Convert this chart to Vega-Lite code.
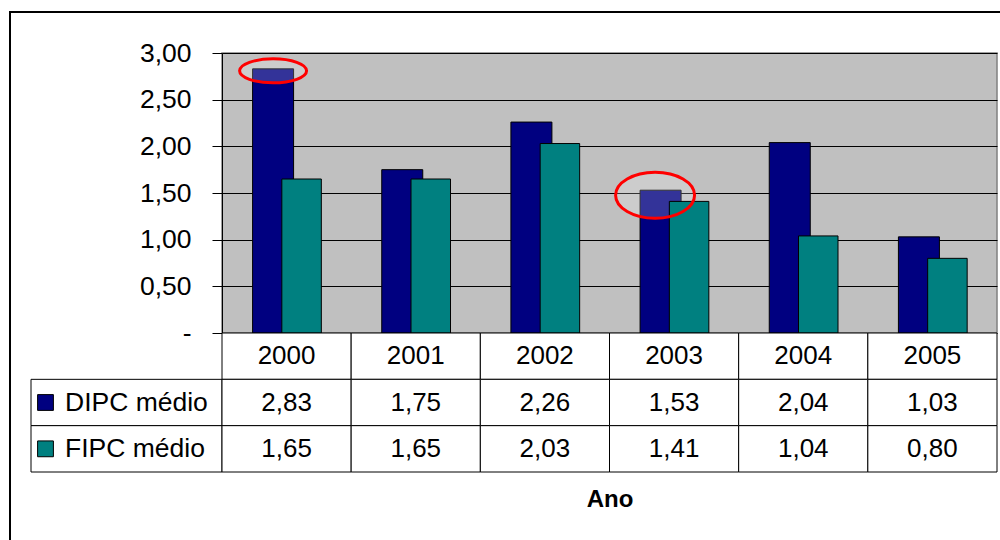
{
  "$schema": "https://vega.github.io/schema/vega-lite/v6.json",
  "autosize": {"type": "none"},
  "padding": {"left": 9, "top": 11, "right": 991, "bottom": 529},
  "background": "white",
  "config": {
    "font": "Liberation Sans",
    "view": {"stroke": null},
    "locale": {"number": {"decimal": ",", "thousands": ".", "grouping": [3], "currency": ["", " €"]}}
  },
  "datasets": {
    "ipc": [
      {"year": "2000", "series": "DIPC médio", "value": 2.83},
      {"year": "2000", "series": "FIPC médio", "value": 1.65},
      {"year": "2001", "series": "DIPC médio", "value": 1.75},
      {"year": "2001", "series": "FIPC médio", "value": 1.65},
      {"year": "2002", "series": "DIPC médio", "value": 2.26},
      {"year": "2002", "series": "FIPC médio", "value": 2.03},
      {"year": "2003", "series": "DIPC médio", "value": 1.53},
      {"year": "2003", "series": "FIPC médio", "value": 1.41},
      {"year": "2004", "series": "DIPC médio", "value": 2.04},
      {"year": "2004", "series": "FIPC médio", "value": 1.04},
      {"year": "2005", "series": "DIPC médio", "value": 1.03},
      {"year": "2005", "series": "FIPC médio", "value": 0.80}
    ],
    "one": [{"k": 1}]
  },
  "bounds": "flush",
  "spacing": 0,
  "hconcat": [
    {"width": 2, "height": 529, "data": {"name": "one"}, "mark": {"type": "rect", "fill": "black", "strokeWidth": 0}, "encoding": {}},
    {
      "bounds": "flush",
      "spacing": 40,
      "vconcat": [
        {"width": 989, "height": 2, "data": {"name": "one"}, "mark": {"type": "rect", "fill": "black", "strokeWidth": 0}, "encoding": {}},
        {
          "columns": 3,
          "spacing": 0,
          "bounds": "flush",
          "concat": [
            {"width": 20, "height": 280, "data": {"name": "one"}, "mark": {"type": "rect", "opacity": 0}, "encoding": {}},
            {"width": 191, "height": 280, "data": {"name": "one"}, "mark": {"type": "rect", "opacity": 0}, "encoding": {}},
            {
              "width": 775,
              "height": 280,
              "view": {"fill": "#C0C0C0", "stroke": "#808080", "strokeWidth": 1.5},
              "data": {"name": "ipc"},
              "encoding": {
                "x": {"field": "year", "type": "nominal", "scale": {"paddingInner": 0, "paddingOuter": 0}, "axis": null},
                "y": {
                  "field": "value", "type": "quantitative",
                  "scale": {"domain": [0, 3], "nice": false},
                  "axis": {
                    "values": [0, 0.5, 1, 1.5, 2, 2.5, 3],
                    "format": ".2f",
                    "labelExpr": "datum.value == 0 ? '-\u2007\u2007' : datum.label",
                    "title": null,
                    "grid": true, "gridColor": "black", "gridWidth": 1, "gridOpacity": 1,
                    "domainColor": "black", "domainWidth": 1,
                    "tickColor": "black", "tickSize": 10, "tickWidth": 1,
                    "labelFontSize": 26.5, "labelColor": "black", "labelPadding": 21, "labelFont": "Liberation Sans"
                  }
                }
              },
              "layer": [
                {
                  "transform": [{"filter": "datum.series == 'DIPC médio'"}],
                  "mark": {"type": "bar", "width": 41, "xOffset": -13.5, "fill": "#000080", "stroke": "black", "strokeWidth": 1}
                },
                {
                  "transform": [{"filter": "datum.series == 'DIPC médio' && (datum.year == '2000' || datum.year == '2003')"}],
                  "mark": {"type": "point", "size": 10000, "filled": true, "fill": "white", "fillOpacity": 0.2, "strokeWidth": 0, "opacity": 1, "xOffset": -13.5},
                  "encoding": {
                    "shape": {
                      "field": "year", "type": "nominal", "legend": null,
                      "scale": {"domain": ["2000", "2003"], "range": ["M -0.67 0.04 A 0.67 0.24 0 1 0 0.67 0.04 A 0.67 0.24 0 1 0 -0.67 0.04 Z", "M -0.90 0.10 A 0.79 0.46 0 1 0 0.68 0.10 A 0.79 0.46 0 1 0 -0.90 0.10 Z"]}
                    }
                  }
                },
                {
                  "transform": [{"filter": "datum.series == 'FIPC médio'"}],
                  "mark": {"type": "bar", "width": 39.5, "xOffset": 15, "fill": "#008080", "stroke": "black", "strokeWidth": 1}
                },
                {
                  "transform": [{"filter": "datum.series == 'DIPC médio' && (datum.year == '2000' || datum.year == '2003')"}],
                  "mark": {"type": "point", "size": 10000, "filled": false, "stroke": "#FF0000", "strokeWidth": 3, "opacity": 1, "xOffset": -13.5},
                  "encoding": {
                    "shape": {
                      "field": "year", "type": "nominal", "legend": null,
                      "scale": {"domain": ["2000", "2003"], "range": ["M -0.67 0.04 A 0.67 0.24 0 1 0 0.67 0.04 A 0.67 0.24 0 1 0 -0.67 0.04 Z", "M -0.90 0.10 A 0.79 0.46 0 1 0 0.68 0.10 A 0.79 0.46 0 1 0 -0.90 0.10 Z"]}
                    }
                  }
                }
              ]
            },
            {"width": 20, "height": 139, "data": {"name": "one"}, "mark": {"type": "rect", "opacity": 0}, "encoding": {}},
            {
              "width": 191,
              "height": 139,
              "data": {"name": "ipc"},
              "transform": [{"aggregate": [{"op": "count", "as": "n"}], "groupby": ["series"]}],
              "encoding": {
                "y": {"field": "series", "type": "nominal", "scale": {"domain": ["Ano", "DIPC médio", "FIPC médio"], "paddingInner": 0, "paddingOuter": 0}, "axis": null}
              },
              "layer": [
                {"mark": {"type": "rect", "fill": "white", "stroke": "black", "strokeWidth": 1}},
                {
                  "mark": {"type": "point", "shape": "square", "size": 250, "filled": true, "opacity": 1, "stroke": "black", "strokeWidth": 1, "xOffset": -81},
                  "encoding": {"fill": {"field": "series", "type": "nominal", "scale": {"domain": ["DIPC médio", "FIPC médio"], "range": ["#000080", "#008080"]}, "legend": null}}
                },
                {
                  "mark": {"type": "text", "align": "left", "fontSize": 26.5, "color": "black", "dx": -61.5},
                  "encoding": {"text": {"field": "series"}}
                }
              ]
            },
            {
              "width": 775,
              "height": 139,
              "data": {"name": "ipc"},
              "encoding": {
                "x": {
                  "field": "year", "type": "nominal", "scale": {"paddingInner": 0, "paddingOuter": 0},
                  "axis": {"title": "Ano", "labels": false, "ticks": false, "domain": false, "titleFontSize": 24, "titleFontWeight": "bold", "titleColor": "black", "titlePadding": 15, "titleFont": "Liberation Sans"}
                }
              },
              "layer": [
                {
                  "transform": [{"aggregate": [{"op": "count", "as": "n"}], "groupby": ["year"]}],
                  "mark": {"type": "rect", "fill": "white", "stroke": "black", "strokeWidth": 1},
                  "encoding": {"y": {"datum": "Ano", "type": "nominal", "scale": {"domain": ["Ano", "DIPC médio", "FIPC médio"], "paddingInner": 0, "paddingOuter": 0}, "axis": null}}
                },
                {
                  "mark": {"type": "rect", "fill": "white", "stroke": "black", "strokeWidth": 1},
                  "encoding": {"y": {"field": "series", "type": "nominal", "axis": null}}
                },
                {
                  "transform": [{"aggregate": [{"op": "count", "as": "n"}], "groupby": ["year"]}],
                  "mark": {"type": "text", "fontSize": 26, "color": "black"},
                  "encoding": {"y": {"datum": "Ano", "type": "nominal", "axis": null}, "text": {"field": "year"}}
                },
                {
                  "mark": {"type": "text", "fontSize": 26, "color": "black"},
                  "encoding": {"y": {"field": "series", "type": "nominal", "axis": null}, "text": {"field": "value", "type": "quantitative", "format": ".2f"}}
                }
              ]
            }
          ]
        }
      ]
    }
  ]
}
